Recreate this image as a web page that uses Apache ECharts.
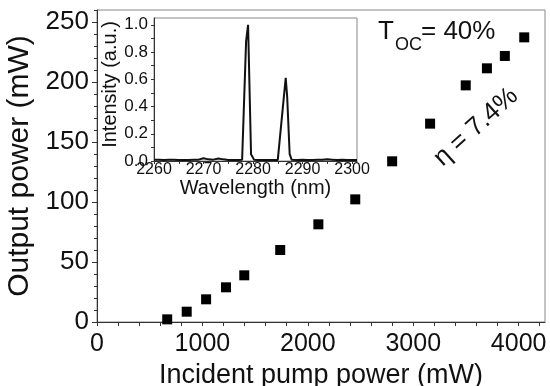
<!DOCTYPE html>
<html>
<head>
<meta charset="utf-8">
<script src="https://cdn.jsdelivr.net/npm/echarts@6/dist/echarts.min.js"></script>
<style>
html,body{margin:0;padding:0;background:#fff;}
#c{width:550px;height:386px;}
</style>
</head>
<body>
<div id="c"></div>
<script>
// Main data: incident pump power (mW) vs output power (mW)
var pumpPower = [666, 851, 1035, 1224, 1397, 1738, 2100, 2450, 2800, 3160, 3498, 3699, 3869, 4053];
var outputPower = [2.2, 8.6, 18.9, 28.9, 38.9, 60, 81.4, 102.2, 133.9, 165.3, 197.2, 211.4, 221.7, 237.2];
var xTickLabels = [0, 1000, 2000, 3000, 4000];
var yTickLabels = [0, 50, 100, 150, 200, 250];

// Inset spectrum
var wavelength = [2260, 2261, 2262, 2263, 2264, 2265, 2266, 2267, 2268, 2269, 2270, 2271, 2272, 2273, 2274, 2275, 2276, 2277, 2277.8, 2278.6, 2279.0, 2279.6, 2280.2, 2281, 2282, 2283, 2284, 2285, 2285.4, 2286.6, 2286.9, 2287.4, 2287.8, 2289, 2290, 2291, 2292, 2293, 2294, 2295, 2296, 2297, 2298, 2299, 2300, 2301];
var intensity = [0.01, 0.01, 0.008, 0.01, 0.01, 0.008, 0.008, 0.008, 0.01, 0.01, 0.02, 0.012, 0.01, 0.018, 0.012, 0.008, 0.008, 0.008, 0.01, 0.88, 1.0, 0.05, 0.01, 0.008, 0.008, 0.008, 0.008, 0.008, 0.01, 0.61, 0.47, 0.05, 0.01, 0.008, 0.01, 0.008, 0.008, 0.01, 0.01, 0.012, 0.01, 0.008, 0.01, 0.008, 0.008, 0.008];
var insetXTickLabels = [2260, 2270, 2280, 2290, 2300];
var insetYTickLabels = [0, 0.2, 0.4, 0.6, 0.8, 1.0];

function range(a, b, s) { var r = []; for (var v = a; v <= b + 1e-9; v += s) r.push(Math.round(v * 1000) / 1000); return r; }
function plain(v) { return String(v); }

var FONT = 'Liberation Sans';
var axisCol = '#333';
var chart = echarts.init(document.getElementById('c'), null, {renderer: 'canvas'});

var option = {
  animation: false,
  backgroundColor: '#fff',
  grid: [
    {left: 97, top: 10, width: 448, height: 312, outerBoundsMode: 'none', containLabel: false, show: true, borderColor: '#888', borderWidth: 1, backgroundColor: 'transparent'},
    {left: 154, top: 18, width: 203, height: 143, outerBoundsMode: 'none', containLabel: false, show: true, borderColor: '#888', borderWidth: 1, backgroundColor: 'transparent'}
  ],
  xAxis: [
    {
      type: 'value', gridIndex: 0, min: 0, max: 4250,
      name: 'Incident pump power (mW)', nameLocation: 'middle', nameGap: 31,
      nameTextStyle: {fontFamily: FONT, fontSize: 27, color: '#111'},
      axisLine: {show: true, lineStyle: {color: axisCol, width: 1}},
      axisTick: {show: true, inside: false, length: 4, customValues: range(0, 4200, 200), lineStyle: {color: axisCol}},
      axisLabel: {customValues: xTickLabels, formatter: plain, margin: 10, fontFamily: FONT, fontSize: 25, color: '#111'},
      splitLine: {show: false}
    },
    {
      type: 'value', gridIndex: 1, min: 2260, max: 2301,
      name: 'Wavelength (nm)', nameLocation: 'middle', nameGap: 15,
      nameTextStyle: {fontFamily: FONT, fontSize: 20, color: '#111'},
      axisLine: {show: true, lineStyle: {color: axisCol, width: 1}},
      axisTick: {show: true, inside: false, length: 3, customValues: range(2260, 2300, 5), lineStyle: {color: axisCol}},
      axisLabel: {customValues: insetXTickLabels, formatter: plain, margin: 1, fontFamily: FONT, fontSize: 16, color: '#111'},
      splitLine: {show: false}
    }
  ],
  yAxis: [
    {
      type: 'value', gridIndex: 0, min: 0, max: 260,
      name: 'Output power (mW)', nameLocation: 'middle', nameGap: 50,
      nameTextStyle: {fontFamily: FONT, fontSize: 30, color: '#111'},
      axisLine: {show: true, lineStyle: {color: axisCol, width: 1}},
      axisTick: {show: true, inside: false, length: 5, customValues: yTickLabels, lineStyle: {color: axisCol}},
      axisLabel: {customValues: yTickLabels, formatter: plain, margin: 8, fontFamily: FONT, fontSize: 26, color: '#111'},
      splitLine: {show: false}
    },
    {
      type: 'value', gridIndex: 0, min: 0, max: 260, position: 'left',
      axisLine: {show: false},
      axisTick: {show: true, inside: false, length: 3, customValues: range(0, 260, 10), lineStyle: {color: axisCol}},
      axisLabel: {show: false},
      splitLine: {show: false}
    },
    {
      type: 'value', gridIndex: 1, min: 0, max: 1.05,
      name: 'Intensity (a.u.)', nameLocation: 'middle', nameGap: 33,
      nameTextStyle: {fontFamily: FONT, fontSize: 20, color: '#111', padding: [0, 0, 0, 10]},
      axisLine: {show: true, lineStyle: {color: axisCol, width: 1}},
      axisTick: {show: true, inside: false, length: 3, customValues: range(0, 1.0, 0.1), lineStyle: {color: axisCol}},
      axisLabel: {customValues: insetYTickLabels, margin: 6, fontFamily: FONT, fontSize: 17, color: '#111',
        formatter: function (v) { return v.toFixed(1); }},
      splitLine: {show: false}
    }
  ],
  series: [
    {
      type: 'scatter', xAxisIndex: 0, yAxisIndex: 0,
      symbol: 'rect', symbolSize: 10,
      itemStyle: {color: '#000', opacity: 1},
      data: pumpPower.map(function (p, i) { return [p, outputPower[i]]; })
    },
    {
      type: 'line', xAxisIndex: 1, yAxisIndex: 2,
      showSymbol: false, symbol: 'none',
      lineStyle: {color: '#111', width: 2},
      data: wavelength.map(function (w, i) { return [w, intensity[i]]; })
    }
  ],
  graphic: [
    {type: 'text', left: 378, top: 19, style: {text: 'T', font: '26px "Liberation Sans"', fill: '#111'}},
    {type: 'text', left: 395, top: 36, style: {text: 'OC', font: '18px "Liberation Sans"', fill: '#111'}},
    {type: 'text', left: 421, top: 19, style: {text: '= 40%', font: '26px "Liberation Sans"', fill: '#111'}},
    {type: 'text', x: 476, y: 127, rotation: 42 * Math.PI / 180,
      style: {text: 'η = 7.4%', font: '26px "Liberation Sans"', fill: '#111', align: 'center', verticalAlign: 'middle'}}
  ]
};
chart.setOption(option);
</script>
</body>
</html>
